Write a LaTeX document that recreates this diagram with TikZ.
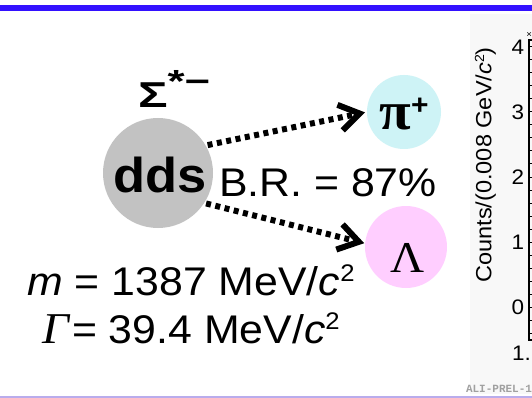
\documentclass[tikz,border=0pt]{standalone}
\usepackage{fontspec}
\usepackage{graphicx}
\setmainfont{Liberation Sans}[FakeStretch=1.07]
\newfontfamily\timesf{Liberation Serif}[FakeStretch=1.07]
\newfontfamily\monof{Liberation Mono}
\usetikzlibrary{arrows.meta}
\definecolor{bandblue}{RGB}{51,17,255}
\definecolor{bandpurple}{RGB}{185,172,236}
\definecolor{panelgrey}{RGB}{248,248,248}
\definecolor{ddsgrey}{RGB}{194,194,194}
\definecolor{picyan}{RGB}{206,243,246}
\definecolor{lampink}{RGB}{255,206,255}
\definecolor{tagrey}{RGB}{160,160,160}
\newcommand{\supc}[1]{\raisebox{0.33em}{\scalebox{0.6}{#1}}}
\newcommand{\fsz}[1]{\fontsize{#1}{#1}\selectfont}
\begin{document}
\begin{tikzpicture}[x=1pt,y=-1pt,
  txt/.style={inner sep=0pt, outer sep=0pt, text=black},
  ball/.style={circle, inner sep=0pt, outer sep=0pt, draw=none},
  decay/.style={line width=6pt, dash pattern=on 5pt off 4.5pt,
    -{Straight Barb[length=20pt,width=26pt]}},
  ticklab/.style={txt, anchor=east, font=\fsz{21}},
  axisline/.style={line width=1.3pt}]
\useasboundingbox (0,0) rectangle (532,398);
\fill[white] (0,0) rectangle (532,398);
\fill[panelgrey] (470,14) rectangle (532,394);
\fill[bandblue] (0,5) rectangle (532,11);
\fill[bandpurple] (0,395.5) rectangle (532,398);

% particles
\node[ball, fill=ddsgrey, minimum size=110pt] (dds) at (158,173) {};
\node[ball, fill=picyan, minimum size=74pt] (pi) at (404,112) {};
\node[ball, fill=lampink, minimum size=82pt] (lam) at (406,247) {};

\node[txt, anchor=base, font=\bfseries\fsz{49}] (ddst) at (160,193) {dds};
\node[txt, anchor=base west, font=\bfseries\fsz{36}] (sig) at (138,108)
  {\scalebox{1.28}[1]{Σ}\raisebox{15pt}{\fsz{32}\scalebox{1.28}[1]{*−}}};
\node[txt, anchor=base, font=\timesf\bfseries\fsz{54}] (pit) at (404,130)
  {π\raisebox{15pt}{\rmfamily\bfseries\fsz{28}+}};
\node[txt, anchor=base, font=\timesf\fsz{44}] (lamt) at (408,272) {Λ};

\node[txt, anchor=base, font=\fsz{40}] (br) at (328,196) {B.R. = 87\%};
\node[txt, anchor=base, font=\fsz{40}] (mass) at (191,295)
  {{\itshape m} = 1387 MeV/{\itshape c}\supc{2}};
\node[txt, anchor=base, font=\fsz{40}] (width) at (191,343)
  {{\timesf\itshape\fsz{44}Γ}\hspace{3pt}= 39.4 MeV/{\itshape c}\supc{2}};

% decays
\draw[decay, shorten <=2pt, shorten >=2pt] (dds.30) -- (pi.west);
\draw[decay, shorten <=2pt, shorten >=1pt] (dds.-33) -- (lam.175);

% plot edge
\node[txt, rotate=90, font=\fsz{22}] (ylab) at (485.5,165)
  {Counts/(0.008 GeV/{\itshape c}\supc{2})};
\node[ticklab] (t4) at (524,47) {4};
\node[ticklab] (t3) at (524,112) {3};
\node[ticklab] (t2) at (524,177) {2};
\node[ticklab] (t1) at (524,242) {1};
\node[ticklab] (t0) at (524,307) {0};
\node[txt, anchor=west, font=\fsz{21}] (xl) at (512,353) {1.};
\node[txt, anchor=east, font=\fsz{9}] (times) at (532,35) {×};
\draw[axisline] (533,40) -- (529,40) -- (529,340) -- (533,340);
\foreach \k in {-2,...,20}
  \draw[line width=1pt] (529,307-13*\k) -- (533,307-13*\k);
\node[txt, anchor=base west, text=tagrey, font=\monof\bfseries\fsz{11}] (tag) at (466,392) {ALI-PREL-1};
\end{tikzpicture}
\end{document}
